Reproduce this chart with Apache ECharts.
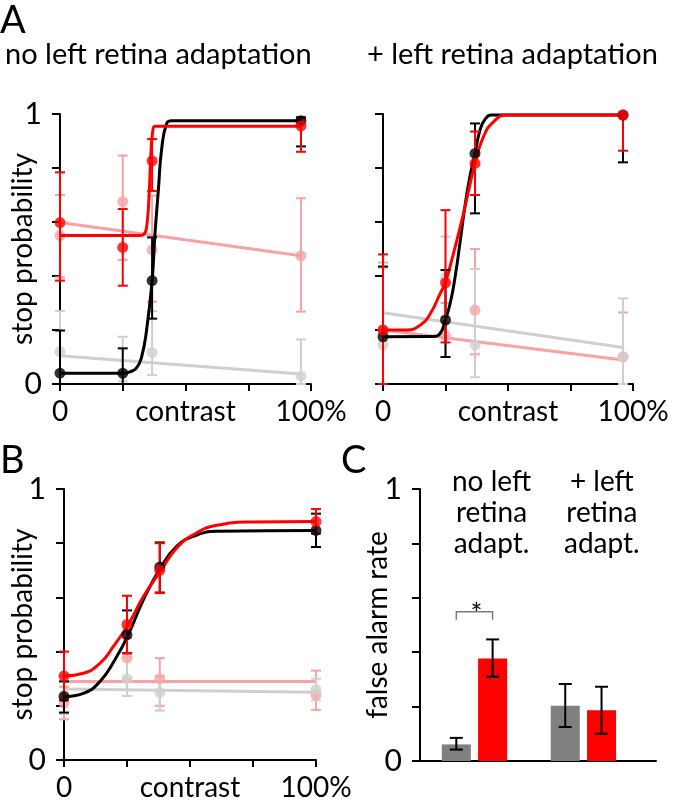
<!DOCTYPE html>
<html><head><meta charset="utf-8">
<script src="https://cdn.jsdelivr.net/npm/echarts@6/dist/echarts.min.js"></script>
<style>html,body{margin:0;padding:0;background:#fff}#c{width:673px;height:802px}</style>
</head><body><div id="c"></div>
<script>
// ---------- DATA ----------
const xTickLabels = {0: '0', 50: 'contrast', 100: '100%'};
// Panel A (left): no left retina adaptation
const aL_x = [0, 25, 36.7, 96];
const aL_black = [0.04, 0.04, 0.383, 0.975];
const aL_blackLo = [0.0, 0.0, 0.242, 0.88];
const aL_blackHi = [0.198, 0.132, 0.543, 0.988];
const aL_red = [0.598, 0.506, 0.826, 0.956];
const aL_redLo = [0.383, 0.364, 0.715, 0.86];
const aL_redHi = [0.784, 0.648, 0.907, 0.984];
const aL_pink = [0.55, 0.675, 0.496, 0.475];
const aL_pinkLo = [0.395, 0.46, 0.305, 0.268];
const aL_pinkHi = [0.70, 0.846, 0.698, 0.688];
const aL_gray = [0.12, 0.037, 0.117, 0.03];
const aL_grayLo = [0.0, 0.01, 0.033, 0.0];
const aL_grayHi = [0.27, 0.175, 0.27, 0.165];
const aL_blackCurveX = [0, 24.8, 27.9, 30.5, 32.5, 34.5, 36.7, 37.8, 39.2, 40.5, 42.5, 44.5, 96];
const aL_blackCurveY = [0.04, 0.04, 0.045, 0.06, 0.1, 0.2, 0.383, 0.55, 0.72, 0.87, 0.965, 0.975, 0.975];
const aL_redCurveX = [0, 32, 33.5, 34.5, 35.5, 36.2, 37, 38, 96];
const aL_redCurveY = [0.55, 0.55, 0.555, 0.58, 0.7, 0.85, 0.94, 0.955, 0.955];
const aL_pinkFit = [0.598, 0.475];
const aL_grayFit = [0.105, 0.037];

// Panel A (right): + left retina adaptation
const aR_x = [0, 25, 36.8, 96];
const aR_black = [0.175, 0.237, 0.854, 0.996];
const aR_blackLo = [0.0, 0.10, 0.632, 0.821];
const aR_blackHi = [0.435, 0.422, 0.965, 1.0];
const aR_red = [0.2, 0.375, 0.817, 0.996];
const aR_redLo = [0.0, 0.154, 0.70, 0.864];
const aR_redHi = [0.48, 0.644, 0.935, 1.0];
const aR_pink = [0.2, 0.18, 0.274, 0.1];
const aR_pinkLo = [0.0, 0.1, 0.11, 0.0];
const aR_pinkHi = [0.45, 0.3, 0.5, 0.265];
const aR_gray = [0.144, 0.395, 0.144, 0.101];
const aR_grayLo = [0.0, 0.25, 0.025, 0.0];
const aR_grayHi = [0.43, 0.546, 0.426, 0.317];
const aR_blackCurveX = [0, 20, 22.9, 24.9, 26.9, 28.9, 30.9, 32.8, 34.8, 36.8, 38.8, 40.8, 43.5, 96];
const aR_blackCurveY = [0.175, 0.176, 0.188, 0.237, 0.3, 0.4, 0.53, 0.66, 0.77, 0.854, 0.94, 0.98, 0.996, 0.996];
const aR_redCurveX = [0, 9.6, 14.9, 18.9, 22.9, 24.9, 28.2, 32.2, 36.8, 40.2, 44.1, 49.5, 96];
const aR_redCurveY = [0.2, 0.2, 0.218, 0.26, 0.336, 0.375, 0.484, 0.632, 0.817, 0.916, 0.97, 0.996, 0.996];
const aR_pinkFit = [0.2, 0.089];
const aR_grayFit = [0.264, 0.135];

// Panel B
const b_x = [0, 25, 38, 100];
const b_black = [0.234, 0.462, 0.712, 0.847];
const b_blackLo = [0.175, 0.394, 0.618, 0.786];
const b_blackHi = [0.29, 0.552, 0.803, 0.909];
const b_red = [0.31, 0.50, 0.70, 0.88];
const b_redLo = [0.22, 0.394, 0.616, 0.835];
const b_redHi = [0.40, 0.606, 0.80, 0.926];
const b_pink = [0.21, 0.376, 0.30, 0.24];
const b_pinkLo = [0.15, 0.30, 0.20, 0.185];
const b_pinkHi = [0.27, 0.45, 0.376, 0.33];
const b_gray = [0.24, 0.30, 0.25, 0.26];
const b_grayLo = [0.17, 0.236, 0.182, 0.22];
const b_grayHi = [0.31, 0.38, 0.31, 0.30];
const b_blackCurveX = [0, 7.7, 14.3, 20.2, 25.5, 31.5, 38.5, 44.7, 51.3, 60.6, 100];
const b_blackCurveY = [0.234, 0.246, 0.29, 0.37, 0.462, 0.591, 0.712, 0.788, 0.825, 0.844, 0.847];
const b_redCurveX = [0, 7.7, 14.3, 19.6, 25.5, 31.5, 38.5, 44.7, 51.3, 60.6, 73.8, 100];
const b_redCurveY = [0.31, 0.32, 0.357, 0.419, 0.50, 0.603, 0.70, 0.782, 0.831, 0.866, 0.878, 0.88];
const b_pinkFit = [0.29, 0.29];
const b_grayFit = [0.262, 0.25];

// Panel C: false alarm rate
const cGroups = ['no left\nretina\nadapt.', '+ left\nretina\nadapt.'];
const cGray = [0.061, 0.203];
const cGrayLo = [0.042, 0.125];
const cGrayHi = [0.085, 0.283];
const cRed = [0.377, 0.187];
const cRedLo = [0.31, 0.10];
const cRedHi = [0.447, 0.273];
const cSigLevel = 0.549;
const cSigMark = '*';

// ---------- STYLE ----------
const FONT = 'Lato';
const RED = '#ff0000', PINK = '#f6a3a3', LGRAY = '#cfcfcf', BLACK = '#000000', BGRAY = '#808080';

const chart = echarts.init(document.getElementById('c'), null, {renderer: 'canvas'});

function zip(xs, ys) { return xs.map((x, i) => [x, ys[i]]); }
function zip3(xs, a, b) { return xs.map((x, i) => [x, a[i], b[i]]); }

function errRender(color, capW, lw) {
  return function (params, api) {
    const x = api.value(0), lo = api.value(1), hi = api.value(2);
    const pl = api.coord([x, lo]), ph = api.coord([x, hi]);
    const st = {stroke: color, lineWidth: lw};
    return {type: 'group', children: [
      {type: 'line', shape: {x1: pl[0], y1: pl[1], x2: ph[0], y2: ph[1]}, style: st},
      {type: 'line', shape: {x1: pl[0] - capW / 2, y1: pl[1], x2: pl[0] + capW / 2, y2: pl[1]}, style: st},
      {type: 'line', shape: {x1: ph[0] - capW / 2, y1: ph[1], x2: ph[0] + capW / 2, y2: ph[1]}, style: st}
    ]};
  };
}

const grids = [
  {left: 60, top: 114, width: 251, height: 270, outerBoundsMode: 'none', containLabel: false},
  {left: 383, top: 114, width: 250, height: 270, outerBoundsMode: 'none', containLabel: false},
  {left: 64, top: 489, width: 252, height: 271, outerBoundsMode: 'none', containLabel: false},
  {left: 420, top: 489, width: 236, height: 272, outerBoundsMode: 'none', containLabel: false}
];

function contrastAxis(gi) {
  return {
    type: 'value', gridIndex: gi, min: 0, max: 100, interval: 25,
    axisLine: {show: true, onZero: false, lineStyle: {color: BLACK, width: 2}},
    axisTick: {show: true, length: 7, lineStyle: {color: BLACK, width: 2}},
    splitLine: {show: false},
    axisLabel: {show: true, margin: 14, fontFamily: FONT, fontSize: 28, color: BLACK,
      formatter: v => (xTickLabels[v] !== undefined ? xTickLabels[v] : ''), showMinLabel: true, showMaxLabel: true}
  };
}
function probAxis(gi, name, nameGap, showLabels) {
  return {
    type: 'value', gridIndex: gi, min: 0, max: 1, interval: 0.2,
    name: name, nameLocation: 'middle', nameGap: nameGap, nameMoveOverlap: false,
    nameTextStyle: {fontFamily: FONT, fontSize: 28, color: BLACK},
    axisLine: {show: true, lineStyle: {color: BLACK, width: 2}},
    axisTick: {show: true, length: 8, lineStyle: {color: BLACK, width: 2}},
    splitLine: {show: false},
    axisLabel: {show: showLabels, margin: 18, fontFamily: FONT, fontSize: 30, color: BLACK,
      formatter: v => (v === 0 || v === 1 ? String(v) : '')}
  };
}

function panelSeries(gi, xs, d) {
  const s = [];
  const endX = xs[xs.length - 1];
  s.push({type: 'line', xAxisIndex: gi, yAxisIndex: gi, data: [[0, d.pinkFit[0]], [endX, d.pinkFit[1]]],
    showSymbol: false, lineStyle: {color: PINK, width: 3}, z: 1, silent: true});
  s.push({type: 'line', xAxisIndex: gi, yAxisIndex: gi, data: [[0, d.grayFit[0]], [endX, d.grayFit[1]]],
    showSymbol: false, lineStyle: {color: LGRAY, width: 3}, z: 1, silent: true});
  s.push({type: 'custom', xAxisIndex: gi, yAxisIndex: gi, renderItem: errRender(PINK, 10, 2),
    data: zip3(xs, d.pinkLo, d.pinkHi), z: 2, clip: false});
  s.push({type: 'custom', xAxisIndex: gi, yAxisIndex: gi, renderItem: errRender(LGRAY, 10, 2),
    data: zip3(xs, d.grayLo, d.grayHi), z: 2, clip: false});
  s.push({type: 'scatter', xAxisIndex: gi, yAxisIndex: gi, data: zip(xs, d.pink), symbolSize: 11,
    itemStyle: {color: PINK}, z: 3});
  s.push({type: 'scatter', xAxisIndex: gi, yAxisIndex: gi, data: zip(xs, d.gray), symbolSize: 11,
    itemStyle: {color: LGRAY}, z: 3});
  s.push({type: 'line', xAxisIndex: gi, yAxisIndex: gi, data: zip(d.bcx, d.bcy), smooth: 0.5,
    showSymbol: false, lineStyle: {color: BLACK, width: 3}, z: 4, silent: true});
  s.push({type: 'line', xAxisIndex: gi, yAxisIndex: gi, data: zip(d.rcx, d.rcy), smooth: 0.5,
    showSymbol: false, lineStyle: {color: RED, width: 3}, z: 5, silent: true});
  s.push({type: 'custom', xAxisIndex: gi, yAxisIndex: gi, renderItem: errRender(BLACK, 10, 2),
    data: zip3(xs, d.blackLo, d.blackHi), z: 6, clip: false});
  s.push({type: 'custom', xAxisIndex: gi, yAxisIndex: gi, renderItem: errRender(RED, 10, 2),
    data: zip3(xs, d.redLo, d.redHi), z: 6, clip: false});
  s.push({type: 'scatter', xAxisIndex: gi, yAxisIndex: gi, data: zip(xs, d.black), symbolSize: 11,
    itemStyle: {color: BLACK}, z: 7});
  s.push({type: 'scatter', xAxisIndex: gi, yAxisIndex: gi, data: zip(xs, d.red), symbolSize: 11,
    itemStyle: {color: RED}, z: 8});
  return s;
}

const series = [].concat(
  panelSeries(0, aL_x, {pink: aL_pink, pinkLo: aL_pinkLo, pinkHi: aL_pinkHi, gray: aL_gray, grayLo: aL_grayLo, grayHi: aL_grayHi,
    black: aL_black, blackLo: aL_blackLo, blackHi: aL_blackHi, red: aL_red, redLo: aL_redLo, redHi: aL_redHi,
    bcx: aL_blackCurveX, bcy: aL_blackCurveY, rcx: aL_redCurveX, rcy: aL_redCurveY, pinkFit: aL_pinkFit, grayFit: aL_grayFit}),
  panelSeries(1, aR_x, {pink: aR_pink, pinkLo: aR_pinkLo, pinkHi: aR_pinkHi, gray: aR_gray, grayLo: aR_grayLo, grayHi: aR_grayHi,
    black: aR_black, blackLo: aR_blackLo, blackHi: aR_blackHi, red: aR_red, redLo: aR_redLo, redHi: aR_redHi,
    bcx: aR_blackCurveX, bcy: aR_blackCurveY, rcx: aR_redCurveX, rcy: aR_redCurveY, pinkFit: aR_pinkFit, grayFit: aR_grayFit}),
  panelSeries(2, b_x, {pink: b_pink, pinkLo: b_pinkLo, pinkHi: b_pinkHi, gray: b_gray, grayLo: b_grayLo, grayHi: b_grayHi,
    black: b_black, blackLo: b_blackLo, blackHi: b_blackHi, red: b_red, redLo: b_redLo, redHi: b_redHi,
    bcx: b_blackCurveX, bcy: b_blackCurveY, rcx: b_redCurveX, rcy: b_redCurveY, pinkFit: b_pinkFit, grayFit: b_grayFit})
);

// Panel C bars: group g -> gray at 3g+1, red at 3g+2
const cGrayX = cGroups.map((_, g) => 3 * g + 1);
const cRedX = cGroups.map((_, g) => 3 * g + 2);
function barRender(color) {
  return function (params, api) {
    const x = api.value(0), v = api.value(1);
    const t = api.coord([x, v]), b = api.coord([x, 0]);
    const w = api.size([0.8, 0])[0];
    return {type: 'rect', shape: {x: t[0] - w / 2, y: t[1], width: w, height: b[1] - t[1]}, style: {fill: color}};
  };
}
series.push({type: 'custom', xAxisIndex: 3, yAxisIndex: 3, renderItem: barRender(BGRAY), data: zip(cGrayX, cGray), z: 2});
series.push({type: 'custom', xAxisIndex: 3, yAxisIndex: 3, renderItem: barRender(RED), data: zip(cRedX, cRed), z: 2});
series.push({type: 'custom', xAxisIndex: 3, yAxisIndex: 3, renderItem: errRender(BLACK, 13, 2), data: zip3(cGrayX, cGrayLo, cGrayHi), z: 3});
series.push({type: 'custom', xAxisIndex: 3, yAxisIndex: 3, renderItem: errRender(BLACK, 13, 2), data: zip3(cRedX, cRedLo, cRedHi), z: 3});
series.push({type: 'custom', xAxisIndex: 3, yAxisIndex: 3, z: 3, data: [[cGrayX[0], cRedX[0], cSigLevel]],
  renderItem: function (params, api) {
    const a = api.coord([api.value(0), api.value(2)]), b = api.coord([api.value(1), api.value(2)]);
    const st = {stroke: '#7a7a7a', lineWidth: 1.5};
    return {type: 'group', children: [
      {type: 'polyline', shape: {points: [[a[0], a[1] + 8], [a[0], a[1]], [b[0], b[1]], [b[0], b[1] + 8]]}, style: Object.assign({fill: null}, st)},
      {type: 'text', style: {text: cSigMark, x: (a[0] + b[0]) / 2 + 2, y: a[1] + 17, textAlign: 'center', textVerticalAlign: 'bottom',
        font: '28px ' + FONT, fill: BLACK}}
    ]};
  }});

const option = {
  animation: false,
  backgroundColor: '#fff',
  grid: grids,
  xAxis: [contrastAxis(0), contrastAxis(1), contrastAxis(2),
    {type: 'value', gridIndex: 3, min: 0, max: 6.5, axisLine: {show: true, lineStyle: {color: BLACK, width: 2}},
      axisTick: {show: false}, axisLabel: {show: false}, splitLine: {show: false}}],
  yAxis: [probAxis(0, 'stop probability', 23, true), probAxis(1, '', 0, false), probAxis(2, 'stop probability', 27, true),
    probAxis(3, 'false alarm rate', 28, true)],
  series: series,
  graphic: [
    {type: 'text', left: 0, top: 2, style: {text: 'A', font: '38px ' + FONT, fill: BLACK}},
    {type: 'text', left: 5, top: 40, style: {text: 'no left retina adaptation', font: '29px ' + FONT, fill: BLACK}},
    {type: 'text', left: 367, top: 40, style: {text: '+ left retina adaptation', font: '29px ' + FONT, fill: BLACK}},
    {type: 'text', left: 0, top: 442, style: {text: 'B', font: '38px ' + FONT, fill: BLACK}},
    {type: 'text', left: 341, top: 442, style: {text: 'C', font: '38px ' + FONT, fill: BLACK}},
    {type: 'text', left: 452, top: 466, style: {text: cGroups[0], font: '28px ' + FONT, fill: BLACK, textAlign: 'center', lineHeight: 31}},
    {type: 'text', left: 564, top: 466, style: {text: cGroups[1], font: '28px ' + FONT, fill: BLACK, textAlign: 'center', lineHeight: 31}}
  ]
};
chart.setOption(option);
</script>
</body></html>
